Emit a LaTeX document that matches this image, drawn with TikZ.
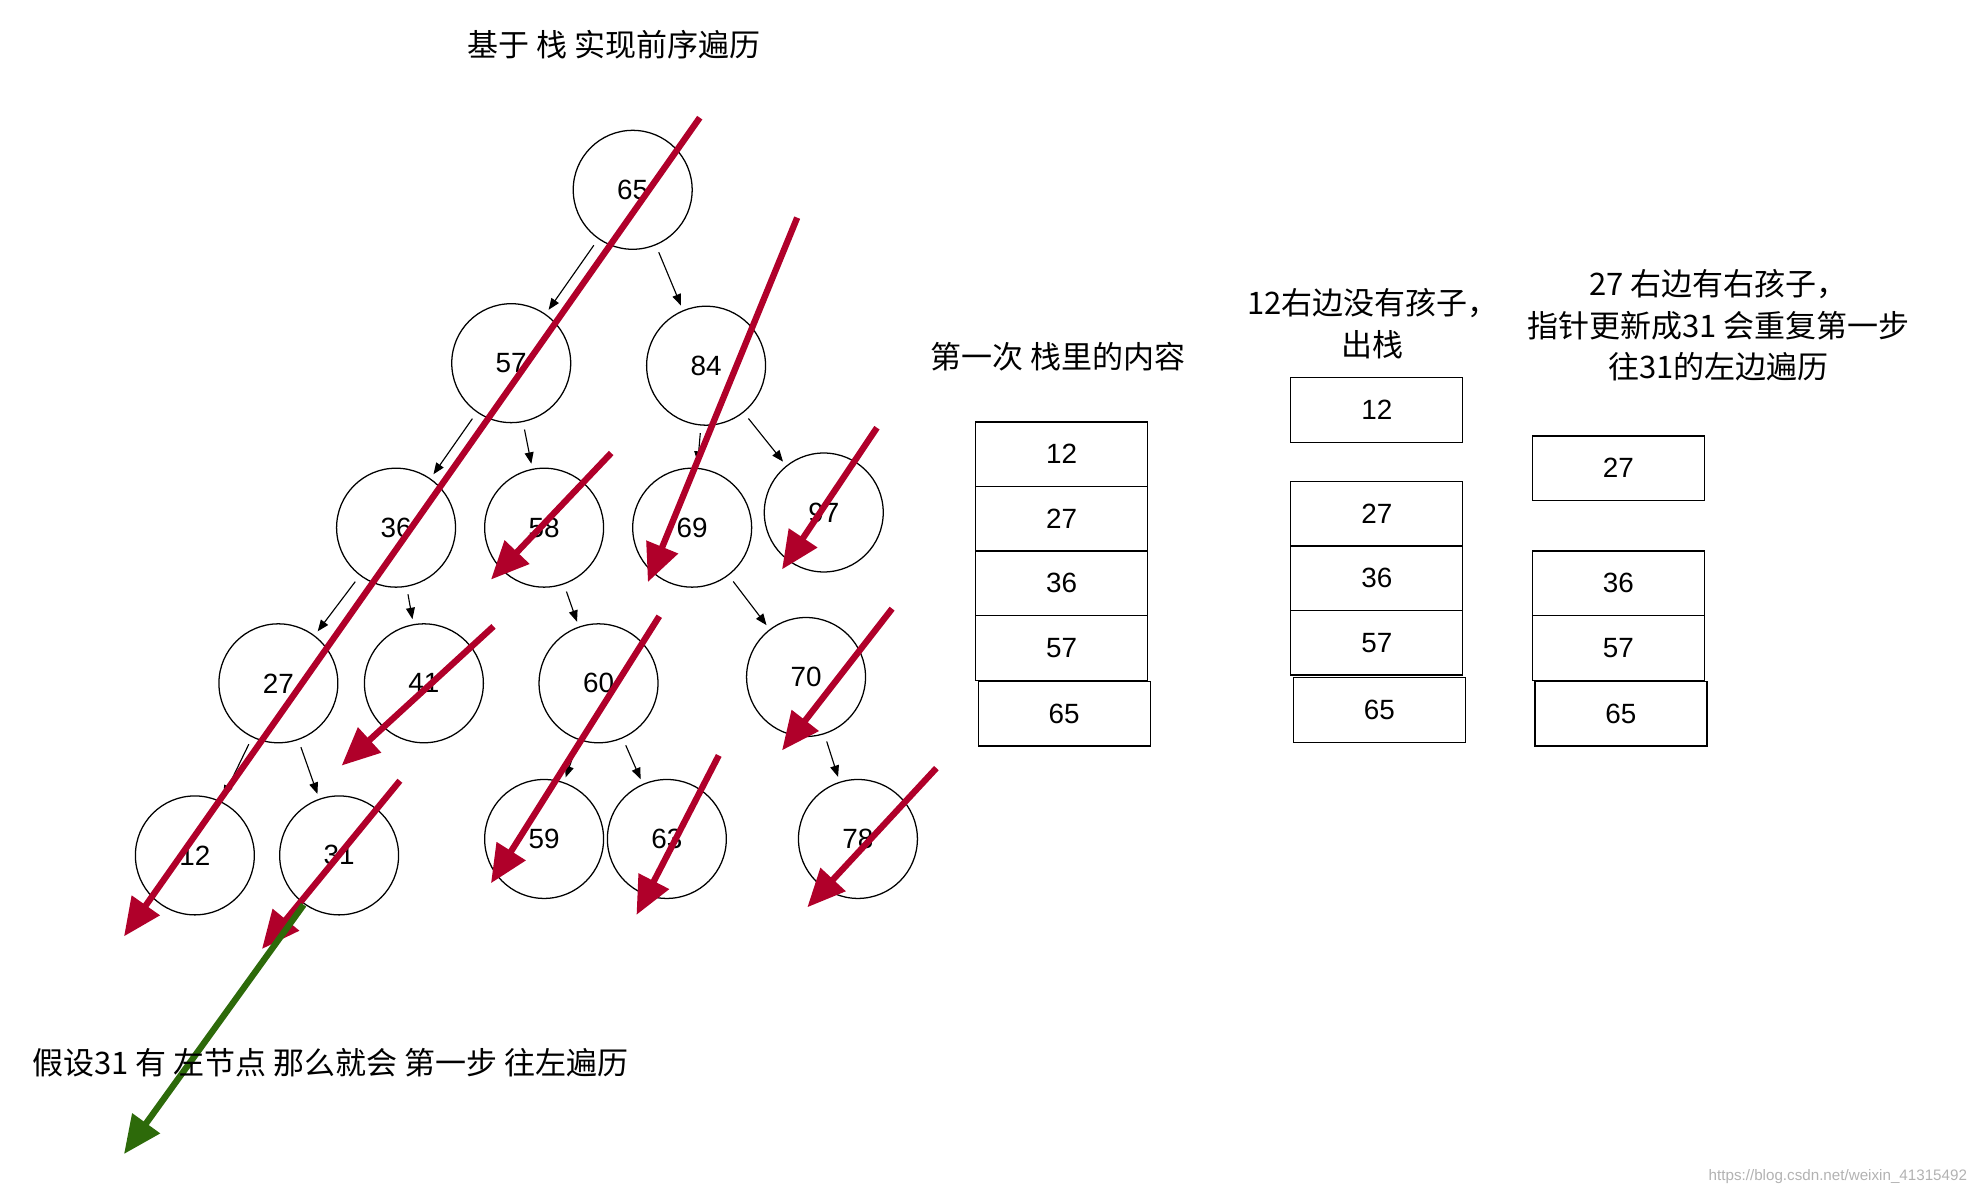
\documentclass[tikz,border=0pt]{standalone}
\usepackage{fontspec}
\setmainfont{Noto Sans CJK SC}
\newfontfamily\numfont{Liberation Sans}
\usetikzlibrary{arrows.meta}
\definecolor{redA}{HTML}{B0002A}
\definecolor{greenA}{HTML}{2D6A0A}
\begin{document}
\begin{tikzpicture}[x=1pt,y=-1pt,
  tn/.style={draw,line width=1pt,circle,minimum size=94pt,inner sep=0pt,font=\numfont\fontsize{22}{26}\selectfont},
  ed/.style={-{Triangle[length=9pt,width=7pt]},line width=0.9pt,shorten <=6pt,shorten >=4pt},
  ra/.style={redA,line width=5pt,-{Triangle[length=30pt,width=26pt]}},
  ga/.style={greenA,line width=5pt,-{Triangle[length=30pt,width=26pt]}},
  sb/.style={draw,line width=1pt,minimum width=136pt,minimum height=51pt,inner sep=0pt,font=\numfont\fontsize{22}{26}\selectfont},
  lb/.style={font=\fontsize{24.5}{33}\selectfont,align=center}]
\useasboundingbox (0,0) rectangle (1560,939);
\node[tn] (n65) at (500,150) {65};
\node[tn] (n57) at (404,287) {57};
\node[tn] (n84) at (558,289) {84};
\node[tn] (n36) at (313,417) {36};
\node[tn] (n58) at (430,417) {58};
\node[tn] (n69) at (547,417) {69};
\node[tn] (n97) at (651,405) {97};
\node[tn] (n27) at (220,540) {27};
\node[tn] (n41) at (335,540) {41};
\node[tn] (n60) at (473,540) {60};
\node[tn] (n70) at (637,535) {70};
\node[tn] (n12) at (154,676) {12};
\node[tn] (n31) at (268,676) {31};
\node[tn] (n59) at (430,663) {59};
\node[tn] (n63) at (527,663) {63};
\node[tn] (n78) at (678,663) {78};
\foreach \a/\b in {65/57,65/84,57/36,57/58,84/69,84/97,36/27,36/41,58/60,69/70,27/12,27/31,60/59,60/63,70/78}
  \draw[ed] (n\a) -- (n\b);
\coordinate (r1s) at (553,93);  \coordinate (r1e) at (98,740);
\coordinate (r2s) at (630,172); \coordinate (r2e) at (512,460);
\coordinate (r3s) at (483,358); \coordinate (r3e) at (388,458);
\coordinate (r4s) at (693,338); \coordinate (r4e) at (618,450);
\coordinate (r5s) at (390,495); \coordinate (r5e) at (270,605);
\coordinate (r6s) at (521,487); \coordinate (r6e) at (388,698);
\coordinate (r7s) at (705,481); \coordinate (r7e) at (618,593);
\coordinate (r8s) at (568,597); \coordinate (r8e) at (503,723);
\coordinate (r9s) at (740,607); \coordinate (r9e) at (638,717);
\coordinate (r10s) at (316,617); \coordinate (r10e) at (207,750);
\foreach \i in {1,...,10} \draw[ra] (r\i s) -- (r\i e);
\coordinate (gs) at (240,715); \coordinate (ge) at (98,912);
\draw[ga] (gs) -- (ge);
\node[sb] (a1) at (839,359) {12};
\node[sb] (a2) at (839,410) {27};
\node[sb] (a3) at (839,461) {36};
\node[sb] (a4) at (839,512) {57};
\node[sb] (a5) at (841,564) {65};
\node[sb] (b1) at (1088,324) {12};
\node[sb] (b2) at (1088,406) {27};
\node[sb] (b3) at (1088,457) {36};
\node[sb] (b4) at (1088,508) {57};
\node[sb] (b5) at (1090,561) {65};
\node[sb] (c1) at (1279,370) {27};
\node[sb] (c2) at (1279,461) {36};
\node[sb] (c3) at (1279,512) {57};
\node[sb] (c4) at (1281,564) {65};
\node[lb] (t1) at (485,35) {基于 栈 实现前序遍历};
\node[lb] (t2) at (836,282) {第一次 栈里的内容};
\node[lb] (t3) at (1085,256) {12右边没有孩子，\\出栈};
\node[lb] (t4) at (1358,257) {27 右边有右孩子，\\指针更新成31 会重复第一步\\往31的左边遍历};
\node[lb,anchor=west] (t5) at (22,840) {假设31 有 左节点 那么就会 第一步 往左遍历};
\node[font=\numfont\fontsize{12}{14}\selectfont,text=black!30,anchor=east] (wm) at (1558,930) {https://blog.csdn.net/weixin\_41315492};
\end{tikzpicture}
\end{document}
